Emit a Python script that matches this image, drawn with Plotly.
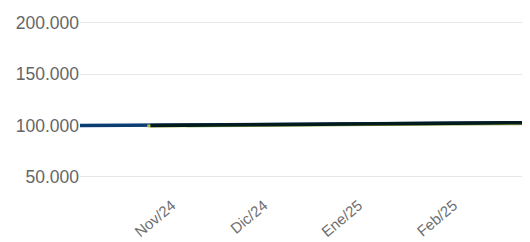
import plotly.graph_objects as go

tick_dates = ["2024-11-01", "2024-12-01", "2025-01-01", "2025-02-01"]
tick_labels = ["Nov/24", "Dic/24", "Ene/25", "Feb/25"]
y_ticks = [50000, 100000, 150000, 200000]

blue_dates = ["2024-10-01", "2024-10-08", "2024-10-15", "2024-10-22", "2024-10-29",
              "2024-11-05", "2024-11-12", "2024-11-19", "2024-11-26", "2024-12-03",
              "2024-12-10", "2024-12-17", "2024-12-24", "2024-12-31", "2025-01-07",
              "2025-01-14", "2025-01-21", "2025-01-28", "2025-02-04", "2025-02-11",
              "2025-02-18", "2025-02-25"]
blue_values = [100000, 100050, 100100, 100150, 100250, 100400, 100550, 100700, 100850, 101000,
               101150, 101300, 101450, 101600, 101750, 101900, 102050, 102200, 102350, 102500,
               102650, 102800]

yellow_dates = ["2024-10-23", "2024-10-29", "2024-11-05", "2024-11-12", "2024-11-19",
                "2024-11-26", "2024-12-03", "2024-12-10", "2024-12-17", "2024-12-24",
                "2024-12-31", "2025-01-07", "2025-01-14", "2025-01-21", "2025-01-28",
                "2025-02-04", "2025-02-11", "2025-02-18", "2025-02-25"]
yellow_values = [99500, 99650, 99800, 99950, 100100, 100250, 100400, 100550, 100700, 100850,
                 101000, 101150, 101300, 101450, 101600, 101750, 101900, 102050, 102200]

teal_dates = ["2024-11-05", "2024-11-12", "2024-11-19", "2024-11-26", "2024-12-03",
              "2024-12-10", "2024-12-17", "2024-12-24", "2024-12-31", "2025-01-07",
              "2025-01-14", "2025-01-21", "2025-01-28", "2025-02-04", "2025-02-11",
              "2025-02-18", "2025-02-25"]
teal_values = [99700, 99850, 100000, 100150, 100300, 100450, 100600, 100750, 100900, 101050,
               101200, 101350, 101500, 101650, 101800, 101950, 102100]

black_dates = ["2024-10-24", "2024-10-29", "2024-11-05", "2024-11-12", "2024-11-19",
               "2024-11-26", "2024-12-03", "2024-12-10", "2024-12-17", "2024-12-24",
               "2024-12-31", "2025-01-07", "2025-01-14", "2025-01-21", "2025-01-28",
               "2025-02-04", "2025-02-11", "2025-02-18", "2025-02-25"]
black_values = [100200, 100350, 100500, 100650, 100800, 100950, 101100, 101250, 101400, 101550,
                101700, 101850, 102000, 102150, 102300, 102450, 102600, 102750, 102950]

fig = go.Figure()
fig.add_trace(go.Scatter(x=teal_dates, y=teal_values, mode="lines",
                         line=dict(color="#a8d5cd", width=3), hoverinfo="skip"))
fig.add_trace(go.Scatter(x=blue_dates, y=blue_values, mode="lines",
                         line=dict(color="#0b3d73", width=3.5), hoverinfo="skip"))
fig.add_trace(go.Scatter(x=yellow_dates, y=yellow_values, mode="lines",
                         line=dict(color="#b8c040", width=3), hoverinfo="skip"))
fig.add_trace(go.Scatter(x=black_dates, y=black_values, mode="lines",
                         line=dict(color="#031b1c", width=3.5), hoverinfo="skip"))

fig.update_layout(
    width=522, height=234,
    margin=dict(l=72, r=0, t=0, b=45),
    paper_bgcolor="white", plot_bgcolor="white",
    showlegend=False,
    separators=",.",
    font=dict(family="Liberation Sans, Arial, sans-serif", color="#666666"),
    xaxis=dict(type="date", range=["2024-10-01", "2025-02-25"], automargin=False,
               tickvals=tick_dates, ticktext=tick_labels, tickangle=-40,
               ticklabelstandoff=-4, ticklabelshift=-3,
               showgrid=False, zeroline=False, showline=False,
               tickfont=dict(size=15, color="#6e6e6e")),
    yaxis=dict(range=[30400, 214600], tickvals=y_ticks, tickformat=",d", automargin=False,
               showgrid=True, gridcolor="#e6e6e6", gridwidth=1,
               zeroline=False, showline=False,
               tickfont=dict(size=17.5, color="#666666")),
)

fig.write_html("out.html")
